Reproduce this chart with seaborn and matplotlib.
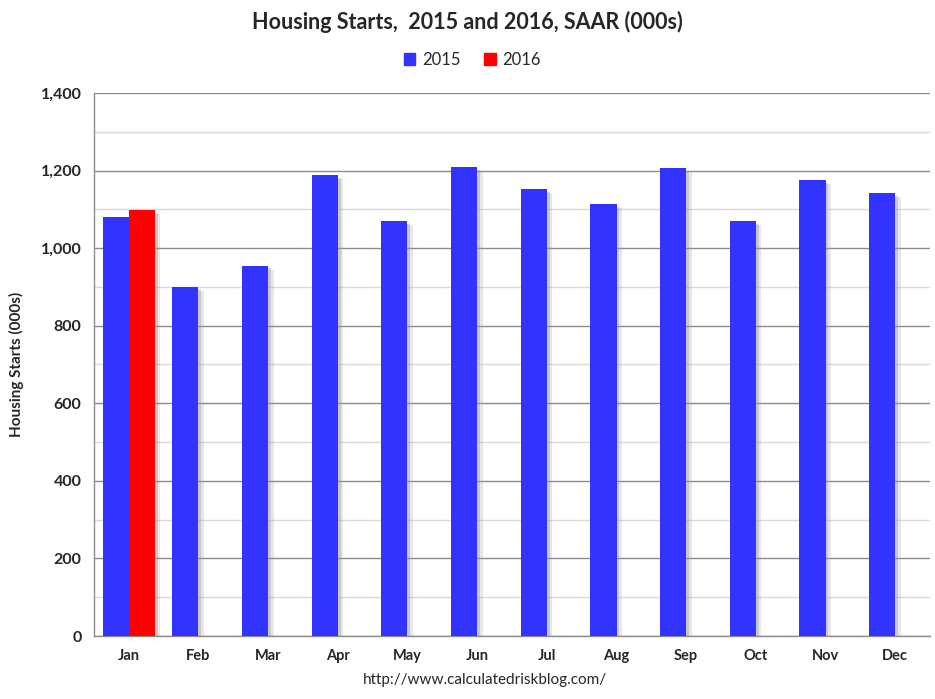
import pandas as pd
import seaborn as sns
import matplotlib.pyplot as plt
import matplotlib.patheffects as pe
from matplotlib.ticker import MultipleLocator, FuncFormatter

# values, SAAR in thousands
months = ['Jan', 'Feb', 'Mar', 'Apr', 'May', 'Jun', 'Jul', 'Aug', 'Sep', 'Oct', 'Nov', 'Dec']
starts_2015 = [1080, 901, 955, 1188, 1070, 1208, 1152, 1113, 1206, 1070, 1176, 1142]
starts_2016 = [1098, None, None, None, None, None, None, None, None, None, None, None]

data = pd.DataFrame({
    'Month': months * 2,
    'Year': ['2015'] * 12 + ['2016'] * 12,
    'Starts': starts_2015 + starts_2016,
})

sns.set_style('white')
plt.rcParams['font.family'] = ['Lato', 'DejaVu Sans']

fig = plt.figure(figsize=(9.35, 6.99), dpi=100)
ax = fig.add_axes([0.1005, 0.0901, 0.8942, 0.7769])

sns.barplot(x='Month', y='Starts', hue='Year', data=data, order=months,
            palette={'2015': '#3333ff', '2016': '#ff0000'}, width=0.75,
            saturation=1, legend=False, linewidth=0, ax=ax, zorder=3)

# soft drop shadow like the Excel original
for bar in ax.patches:
    bar.set_path_effects([pe.SimplePatchShadow(offset=(4, -3), shadow_rgbFace='#a0a0a0', alpha=0.25),
                          pe.SimplePatchShadow(offset=(2, -2), shadow_rgbFace='#909090', alpha=0.35),
                          pe.Normal()])

ax.set_ylim(0, 1400)
ax.set_xlim(-0.5, 11.5)
ax.yaxis.set_major_locator(MultipleLocator(200))
ax.yaxis.set_minor_locator(MultipleLocator(100))
ax.yaxis.set_major_formatter(FuncFormatter(lambda v, p: f'{int(v):,}'))
ax.grid(axis='y', which='major', color='#8c8c8c', linewidth=1, zorder=0)
ax.grid(axis='y', which='minor', color='#dadada', linewidth=1, zorder=0)
ax.set_axisbelow(True)

ax.set_xticks([i + 0.5 for i in range(-1, 12)], minor=True)
ax.tick_params(axis='x', which='major', length=0, pad=9, labelsize=10.5)
ax.tick_params(axis='x', which='minor', length=5, color='#8c8c8c', direction='out')
ax.tick_params(axis='y', which='major', length=5, color='#8c8c8c', direction='out', labelsize=11.5, pad=4)
ax.tick_params(axis='y', which='minor', length=0)
for lab in ax.get_xticklabels() + ax.get_yticklabels():
    lab.set_fontweight('bold')

for side in ['top', 'right']:
    ax.spines[side].set_visible(False)
for side in ['left', 'bottom']:
    ax.spines[side].set_color('#8c8c8c')
    ax.spines[side].set_linewidth(1)

ax.set_xlabel('')
ax.set_ylabel('Housing Starts (000s)', fontsize=11, fontweight='bold', labelpad=12)

fig.suptitle('Housing Starts,  2015 and 2016, SAAR (000s)', x=0.5, y=0.985,
             fontsize=15.5, fontweight='bold')

handles = [plt.Rectangle((0, 0), 1, 1, color='#3333ff'), plt.Rectangle((0, 0), 1, 1, color='#ff0000')]
fig.legend(handles, ['2015', '2016'], loc='center', bbox_to_anchor=(0.505, 0.914), ncol=2,
           frameon=False, fontsize=12, handlelength=0.7, handleheight=0.7,
           handletextpad=0.4, columnspacing=1.4)

fig.text(0.519, 0.027, 'http://www.calculatedriskblog.com/', ha='center', va='center', fontsize=11)

plt.savefig('out.png', dpi=100)
